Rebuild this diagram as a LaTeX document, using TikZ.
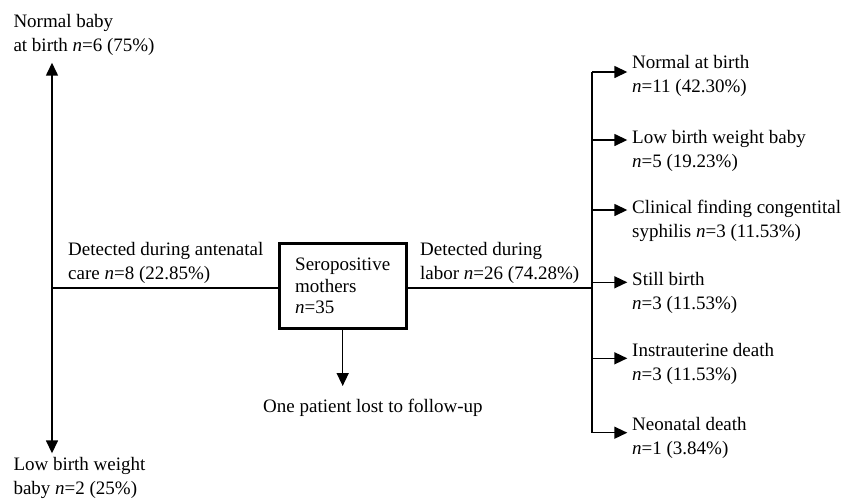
\documentclass[tikz,border=0pt]{standalone}
\usepackage{fontspec}
\setmainfont{Liberation Serif}
\usetikzlibrary{arrows.meta}
\tikzset{
  arr/.style={line width=1.5pt,-{Triangle[length=13pt,width=12pt]}},
  lab/.style={anchor=north west,inner sep=0pt,align=left,font=\fontsize{19}{24}\selectfont},
}

\begin{document}
\begin{tikzpicture}[x=1pt,y=-1pt]
      \useasboundingbox (0,0) rectangle (847,499);
      % centre box
      \node[draw,line width=3pt,minimum width=127pt,minimum height=85pt,inner sep=0pt,align=left,font=\fontsize{19}{21.5}\selectfont] (sero) at (342.7,285.9) {Seropositive\\mothers\\\textit{n}=35};
      \coordinate (ml) at (52,288);
      \coordinate (mr) at (592,288);
      % labels
      \node[lab] (nb) at (13.3,14.3) {Normal baby\\at birth \textit{n}=6 (75\%)};
      \node[lab] (lb) at (13.3,457.2) {Low birth weight\\baby \textit{n}=2 (25\%)};
      \node[lab] (anc) at (68,242) {Detected during antenatal\\care \textit{n}=8 (22.85\%)};
      \node[lab] (lab) at (420,242) {Detected during\\labor \textit{n}=26 (74.28\%)};
      \node[lab] (lost) at (263,398.7) {One patient lost to follow-up};
      \node[lab] (r1) at (632,55.3) {Normal at birth\\\textit{n}=11 (42.30\%)};
      \node[lab] (r2) at (632,129.7) {Low birth weight baby\\\textit{n}=5 (19.23\%)};
      \node[lab] (r3) at (632,200) {Clinical finding congentital\\syphilis \textit{n}=3 (11.53\%)};
      \node[lab] (r4) at (632,272) {Still birth\\\textit{n}=3 (11.53\%)};
      \node[lab] (r5) at (632,343) {Instrauterine death\\\textit{n}=3 (11.53\%)};
      \node[lab] (r6) at (632,417) {Neonatal death\\\textit{n}=1 (3.84\%)};
      % branch points
      \coordinate (b1) at (592,72);
      \coordinate (b2) at (592,140);
      \coordinate (b3) at (592,210);
      \coordinate (b4) at (592,282.3);
      \coordinate (b5) at (592,358.3);
      \coordinate (b6) at (592,432.7);
      % lines
      \draw[line width=1.5pt] (ml) -- (ml -| sero.west);
      \draw[line width=1.5pt] (sero.east |- mr) -- (mr);
      \draw[line width=1.5pt] (b1) -- (b6);
      \draw[arr,shorten >=6.8pt] (ml) -- (ml |- nb.south);
      \draw[arr,shorten >=3.9pt] (ml) -- (ml |- lb.north);
      \draw[arr,shorten >=12.7pt] (sero.south) -- (sero.south |- lost.north);
      \draw[arr,shorten >=4.7pt] (b1) -- (b1 -| r1.west);
      \draw[arr,shorten >=4.7pt] (b2) -- (b2 -| r2.west);
      \draw[arr,shorten >=4.7pt] (b3) -- (b3 -| r3.west);
      \draw[arr,shorten >=4.7pt] (b4) -- (b4 -| r4.west);
      \draw[arr,shorten >=4.7pt] (b5) -- (b5 -| r5.west);
      \draw[arr,shorten >=4.7pt] (b6) -- (b6 -| r6.west);
    \end{tikzpicture}
\end{document}
